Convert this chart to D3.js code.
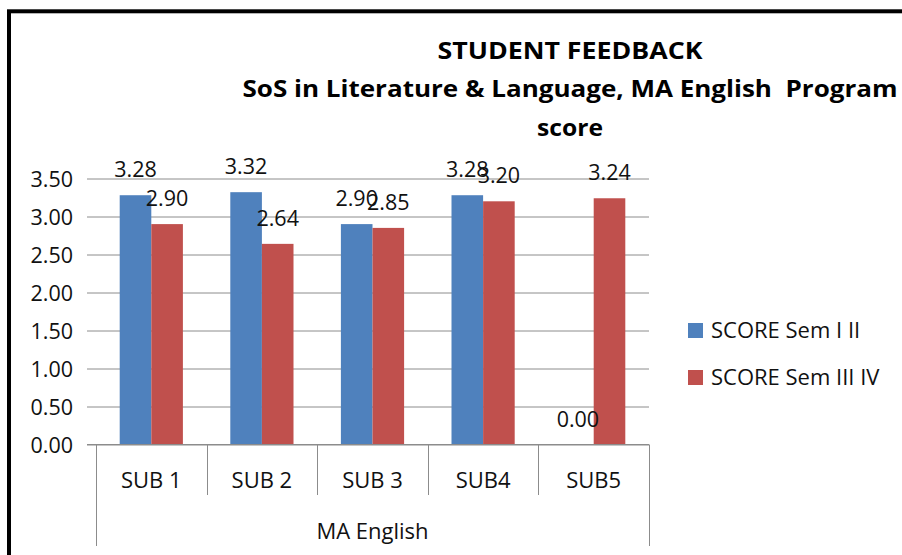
<!DOCTYPE html>
<html>
<head>
<meta charset="utf-8">
<script src="https://cdn.jsdelivr.net/npm/d3@7"></script>
<style>
  html, body { margin: 0; padding: 0; background: #fff; }
  svg { display: block; font-family: "Open Sans", "Noto Sans", sans-serif; }
  .title { white-space: pre; }
</style>
</head>
<body>
<svg id="chart" width="902" height="555"></svg>
<script>
// Subjects and the two semester score series
const categories = ["SUB 1", "SUB 2", "SUB 3", "SUB4", "SUB5"];
const seriesNames = ["SCORE Sem I II", "SCORE Sem III IV"];
const semI_II = [3.28, 3.32, 2.90, 3.28, 0.00];
const semIII_IV = [2.90, 2.64, 2.85, 3.20, 3.24];
const yTicks = [0, 0.5, 1, 1.5, 2, 2.5, 3, 3.5];
const groupLabel = "MA English";
const titleLines = ["STUDENT FEEDBACK", "SoS in Literature & Language, MA English  Program", "score"];

const colors = ["#4F81BD", "#C0504D"];
const series = [semI_II, semIII_IV];

const svg = d3.select("#chart");

// Outer chart frame
svg.append("rect")
  .attr("x", 9).attr("y", 11.3)
  .attr("width", 960).attr("height", 600)
  .attr("fill", "none").attr("stroke", "#000").attr("stroke-width", 4);

// Plot area
const plotLeft = 96, plotRight = 649, plotTop = 178.5, plotBottom = 444.5;

const x = d3.scaleBand().domain(categories).range([plotLeft, plotRight]).paddingInner(0).paddingOuter(0);
const bw = x.bandwidth();
// 150% gap width: each bar takes 1/3.5 of the band
const barW = bw / 3.5;
const gapOff = bw * 0.75 / 3.5;
const xs = d3.scaleBand().domain(d3.range(series.length)).range([gapOff, gapOff + 2 * barW]);

const y = d3.scaleLinear().domain([0, 3.5]).range([plotBottom, plotTop]);

// Y axis with gridlines extended across the plot
const yAxis = d3.axisLeft(y)
  .tickValues(yTicks)
  .tickFormat(d3.format(".2f"))
  .tickSize(9)
  .tickPadding(15);

const yg = svg.append("g")
  .attr("transform", `translate(${plotLeft},0)`)
  .call(yAxis);
yg.select(".domain").remove();
yg.selectAll(".tick line")
  .attr("x1", plotRight - plotLeft).attr("x2", -9)
  .attr("stroke", "#8c8c8c").attr("stroke-width", 1);
yg.selectAll(".tick text")
  .attr("font-family", "'Open Sans', sans-serif")
  .attr("font-size", 21.5)
  .attr("fill", "#111")
  .attr("x", -23)
  .attr("dy", "0.36em");

// Bars
series.forEach((vals, si) => {
  svg.append("g").selectAll("rect")
    .data(categories.map((c, i) => ({ c, v: vals[i] })))
    .join("rect")
    .attr("x", d => x(d.c) + xs(si))
    .attr("y", d => y(d.v))
    .attr("width", xs.bandwidth())
    .attr("height", d => y(0) - y(d.v))
    .attr("fill", colors[si]);
});

// Data labels above each bar
series.forEach((vals, si) => {
  svg.append("g").selectAll("text")
    .data(categories.map((c, i) => ({ c, v: vals[i] })))
    .join("text")
    .attr("x", d => x(d.c) + xs(si) + xs.bandwidth() / 2)
    .attr("y", d => y(d.v) - 18)
    .attr("text-anchor", "middle")
    .attr("font-size", 21.5)
    .attr("fill", "#111")
    .text(d => d3.format(".2f")(d.v));
});

// Category axis: baseline and separators
const xg = svg.append("g");
xg.append("line")
  .attr("x1", plotLeft - 9).attr("x2", plotRight)
  .attr("y1", plotBottom).attr("y2", plotBottom)
  .attr("stroke", "#8c8c8c");
const edges = categories.map(c => x(c)).concat([plotRight]);
xg.selectAll("line.sep")
  .data(edges)
  .join("line")
  .attr("class", "sep")
  .attr("x1", d => Math.round(d) + 0.5).attr("x2", d => Math.round(d) + 0.5)
  .attr("y1", plotBottom)
  .attr("y2", (d, i) => (i === 0 || i === edges.length - 1) ? 546 : 495)
  .attr("stroke", "#8c8c8c");
xg.selectAll("text.cat")
  .data(categories)
  .join("text")
  .attr("class", "cat")
  .attr("x", d => x(d) + bw / 2)
  .attr("y", 487.5)
  .attr("text-anchor", "middle")
  .attr("font-size", 22)
  .attr("fill", "#111")
  .text(d => d);
xg.append("text")
  .attr("x", (plotLeft + plotRight) / 2)
  .attr("y", 538.5)
  .attr("text-anchor", "middle")
  .attr("font-size", 22)
  .attr("fill", "#111")
  .text(groupLabel);

// Title
const titleWidths = [265, 655, 66];
const titleBase = [58.5, 97, 136];
svg.append("g").selectAll("text")
  .data(titleLines)
  .join("text")
  .attr("class", "title")
  .attr("x", 570)
  .attr("y", (d, i) => titleBase[i])
  .attr("text-anchor", "middle")
  .attr("font-size", 24)
  .attr("font-weight", "bold")
  .attr("fill", "#000")
  .attr("textLength", (d, i) => titleWidths[i])
  .attr("lengthAdjust", "spacingAndGlyphs")
  .text(d => d);

// Legend
const legend = svg.append("g");
seriesNames.forEach((name, i) => {
  const ly = 323 + i * 47;
  legend.append("rect")
    .attr("x", 688).attr("y", ly)
    .attr("width", 15).attr("height", 15)
    .attr("fill", colors[i]);
  legend.append("text")
    .attr("x", 711).attr("y", ly + 15)
    .attr("font-size", 22)
    .attr("fill", "#111")
    .text(name);
});
</script>
</body>
</html>
